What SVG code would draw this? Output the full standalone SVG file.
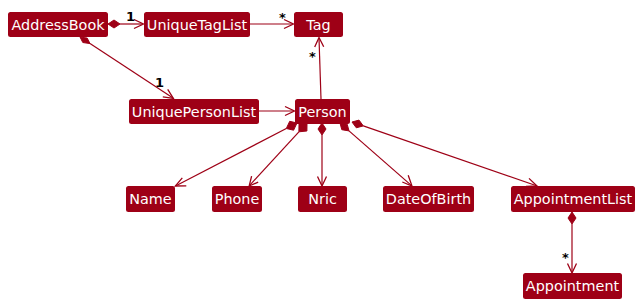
<svg xmlns="http://www.w3.org/2000/svg" width="641" height="304" viewBox="0 0 641 304">
  <style>
    .box { fill: #9E0016; }
    .lbl { fill: #FFFFFF; font-family: "DejaVu Sans", sans-serif; font-size: 14.4px; text-anchor: middle; }
    .edge { stroke: #9E0016; stroke-width: 1.2; fill: none; }
    .dia { fill: #9E0016; stroke: #9E0016; stroke-width: 1; }
    .head { stroke: #9E0016; stroke-width: 1.3; fill: none; stroke-linejoin: miter; }
    .mult { fill: #000000; font-family: "DejaVu Sans", sans-serif; font-size: 13px; font-weight: bold; }
  </style>
  <rect width="641" height="304" fill="#FFFFFF"/>

  <g id="connectors">
    <!-- AddressBook *-> UniqueTagList -->
    <path class="edge" d="M120,24 L143,24"/>
    <path class="dia" d="M108,24 L114,20 L120,24 L114,28 Z"/>
    <path class="head" d="M134,19.5 L143.5,24 L134,28.5"/>
    <text class="mult" x="126" y="21">1</text>

    <!-- UniqueTagList -> Tag -->
    <path class="edge" d="M250,24 L293,24"/>
    <path class="head" d="M284,19.5 L293.5,24 L284,28.5"/>
    <text class="mult" x="279" y="22">*</text>

    <!-- AddressBook *-> UniquePersonList -->
    <path class="edge" d="M90,43.6 L173,98"/>
    <path class="dia" d="M80,37 L87.2,38.1 L90,43.6 L82.8,42.5 Z"/>
    <path class="head" d="M162.8,96.8 L173.4,98.4 L167.7,89.3"/>
    <text class="mult" x="155" y="87">1</text>

    <!-- UniquePersonList -> Person -->
    <path class="edge" d="M259,111 L294,111"/>
    <path class="head" d="M285,106.5 L294.5,111 L285,115.5"/>

    <!-- Person -> Tag -->
    <path class="edge" d="M321,99 L319,38"/>
    <path class="head" d="M314.7,47.1 L319,37.5 L323.7,46.8"/>
    <text class="mult" x="309" y="61">*</text>

    <!-- Person *-> Name -->
    <path class="edge" d="M286.3,128.5 L175.5,186"/>
    <path class="dia" d="M297,123 L293.6,130.2 L286.3,128.5 L289.7,121.3 Z"/>
    <path class="head" d="M182.3,177.8 L175.3,186 L186.3,185.8"/>

    <!-- Person *-> Phone -->
    <path class="edge" d="M298.9,131.8 L249.4,185.6"/>
    <path class="dia" d="M307,123 L306.9,131 L298.9,131.8 L299,123.8 Z"/>
    <path class="head" d="M251.6,176.1 L249.2,186 L258.2,182.1"/>

    <!-- Person *-> Nric -->
    <path class="edge" d="M322,135 L322,185.5"/>
    <path class="dia" d="M322,123 L326,129 L322,135 L318,129 Z"/>
    <path class="head" d="M317.5,176.5 L322,186 L326.5,176.5"/>

    <!-- Person *-> DateOfBirth -->
    <path class="edge" d="M349,130.9 L411.6,185.6"/>
    <path class="dia" d="M340,123 L347.2,124.2 L349,130.9 L341.8,129.7 Z"/>
    <path class="head" d="M402.3,182 L412,186 L408.2,175.3"/>

    <!-- Person *-> AppointmentList -->
    <path class="edge" d="M363.3,125.9 L536.5,185.8"/>
    <path class="dia" d="M352,122 L359,120.1 L363.3,125.9 L356.3,127.8 Z"/>
    <path class="head" d="M526,186.5 L537,186 L529,178.4"/>

    <!-- AppointmentList *-> Appointment -->
    <path class="edge" d="M572,224 L572,272.5"/>
    <path class="dia" d="M572,212 L576,218 L572,224 L568,218 Z"/>
    <path class="head" d="M567.5,263.5 L572,273 L576.5,263.5"/>
    <text class="mult" x="562" y="262">*</text>
  </g>

  <g id="AddressBook">
    <rect class="box" x="8" y="12" width="100" height="25" rx="2.5"/>
    <text class="lbl" x="58" y="29.5">AddressBook</text>
  </g>
  <g id="UniqueTagList">
    <rect class="box" x="144" y="12" width="106" height="25" rx="2.5"/>
    <text class="lbl" x="197" y="29.5">UniqueTagList</text>
  </g>
  <g id="Tag">
    <rect class="box" x="294" y="12" width="49" height="25" rx="2.5"/>
    <text class="lbl" x="318.5" y="29.5">Tag</text>
  </g>
  <g id="UniquePersonList">
    <rect class="box" x="129" y="99" width="130" height="25" rx="2.5"/>
    <text class="lbl" x="194" y="116.5">UniquePersonList</text>
  </g>
  <g id="Person">
    <rect class="box" x="295" y="99" width="55" height="25" rx="2.5"/>
    <text class="lbl" x="322.5" y="116.5">Person</text>
  </g>
  <g id="Name">
    <rect class="box" x="126" y="186" width="49" height="26" rx="2.5"/>
    <text class="lbl" x="150.5" y="204">Name</text>
  </g>
  <g id="Phone">
    <rect class="box" x="212" y="186" width="50" height="26" rx="2.5"/>
    <text class="lbl" x="237" y="204">Phone</text>
  </g>
  <g id="Nric">
    <rect class="box" x="298" y="186" width="49" height="26" rx="2.5"/>
    <text class="lbl" x="322.5" y="204">Nric</text>
  </g>
  <g id="DateOfBirth">
    <rect class="box" x="383" y="186" width="91" height="26" rx="2.5"/>
    <text class="lbl" x="428.5" y="204">DateOfBirth</text>
  </g>
  <g id="AppointmentList">
    <rect class="box" x="511" y="186" width="124" height="26" rx="2.5"/>
    <text class="lbl" x="573" y="204">AppointmentList</text>
  </g>
  <g id="Appointment">
    <rect class="box" x="523" y="273" width="99" height="26" rx="2.5"/>
    <text class="lbl" x="572.5" y="291">Appointment</text>
  </g>
</svg>
